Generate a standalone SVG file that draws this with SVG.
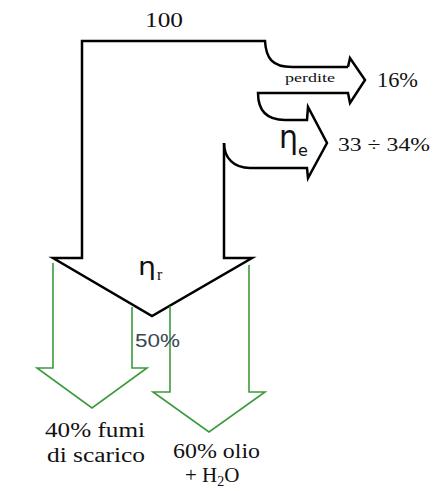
<svg xmlns="http://www.w3.org/2000/svg" width="434" height="491" viewBox="0 0 434 491">
<style>
.blk{fill:none;stroke:#000;stroke-width:2.5;stroke-linejoin:miter}
.grn{fill:none;stroke:#3c9a3c;stroke-width:1.6}
.t{font-family:'Liberation Serif','Times New Roman','DejaVu Serif',serif;fill:#111}
.eta{font-family:'DejaVu Sans',sans-serif;fill:#111}
</style>
<rect width="434" height="491" fill="#fff"/>
<g id="connectors">
<g id="main-flow">
<path class="blk" d="M224,143 L224,258 L252,258 L152,316 L53,258 L82,258 L82,41 L265,41 C266,58 272,67 292,67 L348,67"/>
<path class="blk" d="M348,67 L350,58 L365,80 L350,103 L348,93 L258,93 C258,110 266,120 285,120 L307,120 L308,107 L327,143 L308,178 L307,168 L250,168 C234,168 224,158 224,143"/>
</g>
<g id="green-arrows">
<path class="grn" d="M53,263 L53,368 L37,368 L92,408 L147,368 L132,368 L132,307"/>
<path class="grn" d="M170,306 L170,392 L153,392 L209,432 L265,392 L249,392 L249,265"/>
</g>
</g>
<g id="label-100"><text class="t" x="145" y="27" font-size="20" textLength="38" lengthAdjust="spacingAndGlyphs">100</text></g>
<g id="label-perdite"><text class="t" x="285" y="82" font-size="13" textLength="50" lengthAdjust="spacingAndGlyphs" fill="#1a2a4a">perdite</text></g>
<g id="label-16"><text class="t" x="377" y="87" font-size="20" textLength="41" lengthAdjust="spacingAndGlyphs">16%</text></g>
<g id="label-eta-e"><text class="eta" x="279" y="148" font-size="32" textLength="19" lengthAdjust="spacingAndGlyphs">η</text><text class="eta" x="298" y="156" font-size="16">e</text></g>
<g id="label-33"><text class="t" x="338" y="151" font-size="19" textLength="92" lengthAdjust="spacingAndGlyphs">33 ÷ 34%</text></g>
<g id="label-eta-r"><text class="eta" x="138" y="275" font-size="24" textLength="18" lengthAdjust="spacingAndGlyphs">η</text><text class="t" x="157" y="280" font-size="16">r</text></g>
<g id="label-50"><text x="135" y="347" font-family="'Liberation Sans',Arial,sans-serif" font-size="18" textLength="45" lengthAdjust="spacingAndGlyphs" fill="#3a4654">50%</text></g>
<g id="label-40"><text class="t" x="45" y="437" font-size="20" textLength="100" lengthAdjust="spacingAndGlyphs">40% fumi</text><text class="t" x="47" y="462" font-size="20" textLength="98" lengthAdjust="spacingAndGlyphs">di scarico</text></g>
<g id="label-60"><text class="t" x="173" y="458" font-size="20" textLength="87" lengthAdjust="spacingAndGlyphs">60% olio</text><text class="t" x="185" y="482" font-size="21">+ H<tspan font-size="14" dy="4">2</tspan><tspan dy="-4">O</tspan></text></g>
</svg>
